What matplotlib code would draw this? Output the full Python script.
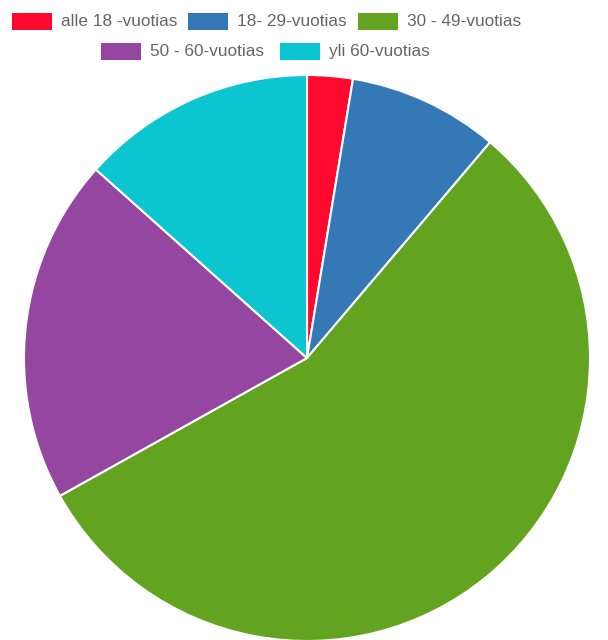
import matplotlib
matplotlib.use("Agg")
import matplotlib.pyplot as plt
from matplotlib.patches import Rectangle

labels = ["alle 18 -vuotias", "18- 29-vuotias", "30 - 49-vuotias", "50 - 60-vuotias", "yli 60-vuotias"]
values = [2.6, 8.6, 55.7, 19.7, 13.4]
colors = ["#FF0A2E", "#3479B6", "#62A420", "#9446A0", "#0BC5D1"]

W, H = 608, 640
fig = plt.figure(figsize=(W / 100, H / 100), dpi=100)
ax = fig.add_axes([0, 0, 1, 1])

cx, cy, r = 307, H - 358, 283
ax.pie(values, colors=colors, startangle=90, counterclock=False,
       center=(cx, cy), radius=r, frame=True,
       wedgeprops=dict(edgecolor="white", linewidth=1.5))
ax.set_xlim(0, W)
ax.set_ylim(0, H)
ax.axis("off")

# legend (pixel positions: box left, row top)
legend_pos = [(12, 13), (188, 13), (358, 13), (101, 43), (280, 43)]
for (bx, by), lab, col in zip(legend_pos, labels, colors):
    ax.add_patch(Rectangle((bx, H - by - 17), 40, 17, facecolor=col, edgecolor="none"))
    ax.text(bx + 49, H - by - 8.5, lab, ha="left", va="center",
            fontsize=12.4, color="#666666", family="Liberation Sans")

fig.savefig("out.png", dpi=100)
